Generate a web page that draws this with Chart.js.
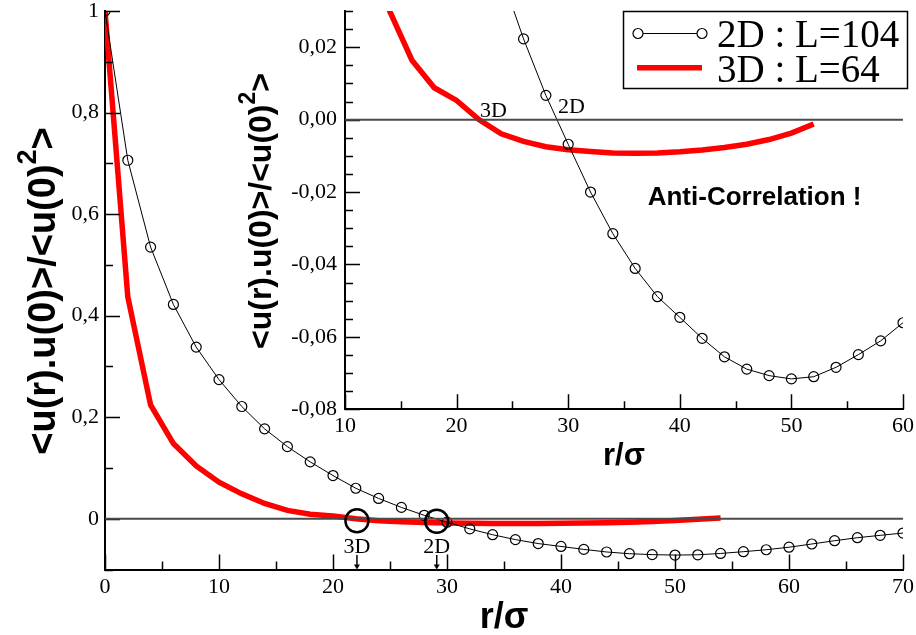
<!DOCTYPE html>
<html>
<head>
<meta charset="utf-8">
<script src="https://cdn.jsdelivr.net/npm/chart.js@4.4.0/dist/chart.umd.min.js"></script>
<style>
  html, body { margin: 0; padding: 0; background: #fff; }
  #wrap { position: relative; width: 916px; height: 635px; }
  #wrap canvas { position: absolute; left: 0; top: 0; }
</style>
</head>
<body>
<div id="wrap">
  <canvas id="main" width="916" height="635"></canvas>
  <canvas id="inset" width="916" height="635"></canvas>
</div>
<script>
// Correlation data
const r2d = [0, 2, 4, 6, 8, 10, 12, 14, 16, 18, 20, 22, 24, 26, 28, 30, 32, 34,
  36, 38, 40, 42, 44, 46, 48, 50, 52, 54, 56, 58, 60, 62, 64, 66, 68, 70];
const corr2d = [1.000, 0.706, 0.535, 0.422, 0.338, 0.274, 0.221, 0.177, 0.142, 0.112,
  0.085, 0.060, 0.040, 0.0223, 0.0067, -0.0068, -0.0200, -0.0315, -0.0411, -0.0489,
  -0.0546, -0.0604, -0.0655, -0.0689, -0.0707, -0.0716, -0.0710, -0.0684, -0.0649,
  -0.0611, -0.0561, -0.0498, -0.0433, -0.0374, -0.0327, -0.0282];

const r3d = [0, 2, 4, 6, 8, 10, 12, 14, 16, 18, 20, 22, 24, 26, 28, 30, 32, 34,
  36, 38, 40, 42, 44, 46, 48, 50, 52, 54];
const corr3d = [1.000, 0.437, 0.224, 0.148, 0.104, 0.072, 0.049, 0.030, 0.0164, 0.0088,
  0.0053, 0.0000, -0.0039, -0.0060, -0.0075, -0.0083, -0.0088, -0.0092, -0.0093, -0.0092,
  -0.0089, -0.0084, -0.0077, -0.0068, -0.0055, -0.0037, -0.0012, 0.0015];

// Tick labels
const mainXTicks = [0, 10, 20, 30, 40, 50, 60, 70];
const mainYTicks = [0, 0.2, 0.4, 0.6, 0.8, 1];
const insetXTicks = [10, 20, 30, 40, 50, 60];
const insetYTicks = [-0.08, -0.06, -0.04, -0.02, 0, 0.02];

// Annotations (data coordinates)
const mainMarks = [
  { label: '3D', r: 22.1, c: -0.004 },
  { label: '2D', r: 29.1, c: -0.005 }
];
const insetMarks = [
  { label: '3D', r: 23.3, c: 0.0007 },
  { label: '2D', r: 30.3, c: 0.0017 }
];
const legendLabels = ['2D : L=104', '3D : L=64'];

const SERIF = "'Liberation Serif', 'Times New Roman', serif";
const SANS = "'Liberation Sans', Arial, sans-serif";
const RED = '#ff0000';

const pts = (xs, ys) => xs.map((x, i) => ({ x, y: ys[i] }));

function commaFmt(digits) {
  return v => {
    if (digits === 1 && (Math.abs(v) < 1e-9 || Math.abs(v - 1) < 1e-9)) return String(Math.round(v));
    return v.toFixed(digits).replace('.', ',');
  };
}

// y title with raised "2"
function drawYTitle(ctx, cx, cy, size) {
  const head = '<u(r).u(0)>/<u(0)';
  const tail = '>';
  ctx.save();
  ctx.translate(cx, cy);
  ctx.rotate(-Math.PI / 2);
  ctx.fillStyle = '#000';
  ctx.textBaseline = 'alphabetic';
  ctx.textAlign = 'left';
  const big = `bold ${size}px ${SANS}`;
  const small = `bold ${Math.round(size * 0.72)}px ${SANS}`;
  ctx.font = big;
  const wHead = ctx.measureText(head).width;
  const wTail = ctx.measureText(tail).width;
  ctx.font = small;
  const wSup = ctx.measureText('2').width;
  let x0 = -(wHead + wSup + wTail) / 2;
  ctx.font = big;
  ctx.fillText(head, x0, 0);
  ctx.font = small;
  ctx.fillText('2', x0 + wHead, -size * 0.5);
  ctx.font = big;
  ctx.fillText(tail, x0 + wHead + wSup, 0);
  ctx.restore();
}

function drawXTitle(ctx, cx, baseY, size) {
  ctx.save();
  ctx.fillStyle = '#000';
  ctx.font = `bold ${size}px ${SANS}`;
  ctx.textAlign = 'center';
  ctx.textBaseline = 'alphabetic';
  ctx.fillText('r/\u03c3', cx, baseY);
  ctx.restore();
}

// inward major + minor ticks, zero line
function drawFrame(chart, cfg) {
  const { ctx, chartArea: a, scales: { x, y } } = chart;
  ctx.save();
  ctx.strokeStyle = '#000';
  ctx.lineWidth = 1.5;
  ctx.beginPath();
  const nx = Math.round((x.max - x.min) / cfg.xMinor);
  for (let i = 0; i <= nx; i++) {
    const v = x.min + i * cfg.xMinor;
    const major = cfg.xMajor.some(m => Math.abs(m - v) < 1e-9);
    const px = Math.round(x.getPixelForValue(v)) + 0.5;
    ctx.moveTo(px, a.bottom);
    ctx.lineTo(px, a.bottom - (major ? 15 : 8));
  }
  const ny = Math.round((y.max - y.min) / cfg.yMinor);
  for (let i = 0; i <= ny; i++) {
    const v = y.min + i * cfg.yMinor;
    const major = cfg.yMajor.some(m => Math.abs(m - v) < 1e-9);
    const py = Math.round(y.getPixelForValue(v)) + 0.5;
    ctx.moveTo(a.left, py);
    ctx.lineTo(a.left + (major ? 15 : 8), py);
  }
  ctx.stroke();

  // zero line
  ctx.strokeStyle = '#4a4a4a';
  ctx.lineWidth = 2;
  ctx.beginPath();
  const y0 = y.getPixelForValue(0);
  ctx.moveTo(a.left, y0);
  ctx.lineTo(a.right, y0);
  ctx.stroke();
  ctx.restore();
}

const mainPlugin = {
  id: 'mainDecor',
  afterDatasetsDraw(chart) {
    const { ctx, chartArea: a, scales: { x, y } } = chart;
    drawFrame(chart, { xMajor: mainXTicks, xMinor: 5, yMajor: mainYTicks, yMinor: 0.1 });

    ctx.save();
    mainMarks.forEach(m => {
      const px = x.getPixelForValue(m.r);
      const py = y.getPixelForValue(m.c);
      ctx.strokeStyle = '#000';
      ctx.lineWidth = 2.5;
      ctx.beginPath();
      ctx.arc(px, py, 11.5, 0, Math.PI * 2);
      ctx.stroke();

      ctx.fillStyle = '#000';
      ctx.font = `22px ${SERIF}`;
      ctx.textAlign = 'center';
      ctx.textBaseline = 'alphabetic';
      ctx.fillText(m.label, px, 553);

      // arrow down to the axis
      ctx.lineWidth = 1.5;
      ctx.beginPath();
      ctx.moveTo(px, 555);
      ctx.lineTo(px, a.bottom - 4);
      ctx.stroke();
      ctx.beginPath();
      ctx.moveTo(px - 3, a.bottom - 5);
      ctx.lineTo(px + 3, a.bottom - 5);
      ctx.lineTo(px, a.bottom);
      ctx.closePath();
      ctx.fill();
    });
    ctx.restore();

    drawYTitle(ctx, 55, 291, 38);
    drawXTitle(ctx, (a.left + a.right) / 2, 628, 36);
  }
};

const insetPlugin = {
  id: 'insetDecor',
  afterDatasetsDraw(chart) {
    const { ctx, chartArea: a, scales: { x, y } } = chart;
    drawFrame(chart, { xMajor: insetXTicks, xMinor: 5, yMajor: insetYTicks, yMinor: 0.005 });

    ctx.save();
    ctx.fillStyle = '#000';
    ctx.font = `22px ${SERIF}`;
    ctx.textAlign = 'center';
    ctx.textBaseline = 'alphabetic';
    insetMarks.forEach(m => {
      ctx.fillText(m.label, x.getPixelForValue(m.r), y.getPixelForValue(m.c));
    });
    ctx.font = `bold 26px ${SANS}`;
    ctx.textBaseline = 'middle';
    ctx.fillText('Anti-Correlation !', x.getPixelForValue(46.7), y.getPixelForValue(-0.0217));
    ctx.restore();

    drawYTitle(ctx, 271, 211, 32);
    drawXTitle(ctx, (a.left + a.right) / 2, 465, 31);
  },
  afterDraw(chart) {
    // legend box, top right
    const ctx = chart.ctx;
    const ds = chart.data.datasets;
    ctx.save();
    ctx.fillStyle = '#fff';
    ctx.fillRect(623, 11, 285, 78);
    ctx.strokeStyle = '#000';
    ctx.lineWidth = 1.5;
    ctx.strokeRect(623.5, 11.5, 284, 77);

    ctx.strokeStyle = ds[0].borderColor;
    ctx.lineWidth = 1;
    ctx.beginPath();
    ctx.moveTo(638, 33.5);
    ctx.lineTo(702, 33.5);
    ctx.stroke();
    [638, 702].forEach(cx => {
      ctx.beginPath();
      ctx.arc(cx, 33.5, 5, 0, Math.PI * 2);
      ctx.fillStyle = '#fff';
      ctx.fill();
      ctx.lineWidth = 1.2;
      ctx.stroke();
    });

    ctx.strokeStyle = ds[1].borderColor;
    ctx.lineWidth = ds[1].borderWidth;
    ctx.beginPath();
    ctx.moveTo(637, 67.7);
    ctx.lineTo(702, 67.7);
    ctx.stroke();

    ctx.fillStyle = '#000';
    ctx.font = `39px ${SERIF}`;
    ctx.textAlign = 'left';
    ctx.textBaseline = 'alphabetic';
    ctx.fillText(legendLabels[0], 717, 46.7);
    ctx.fillText(legendLabels[1], 717, 81.7);
    ctx.restore();
  }
};

function axisOpts(min, max, tickVals, fmt, padding, size) {
  return {
    type: 'linear',
    min, max,
    afterBuildTicks: s => { s.ticks = tickVals.map(v => ({ value: v })); },
    afterFit: s => {
      size(s);
      // let layout.padding alone decide the plot area edges
      s.paddingTop = 0;
      s.paddingBottom = 0;
      s.paddingLeft = 0;
      s.paddingRight = 0;
    },
    grid: { display: true, drawOnChartArea: false, drawTicks: false },
    border: { display: true, color: '#000', width: 2 },
    ticks: {
      autoSkip: false,
      maxRotation: 0,
      padding,
      color: '#000',
      font: { family: SERIF, size: 22 },
      callback: fmt
    }
  };
}

function datasets(r3, c3) {
  return [
    {
      label: legendLabels[0],
      data: pts(r2d, corr2d),
      borderColor: '#000',
      borderWidth: 1,
      pointRadius: 5,
      pointBorderWidth: 1.2,
      pointBorderColor: '#000',
      pointBackgroundColor: 'rgba(0,0,0,0)',
      tension: 0
    },
    {
      label: legendLabels[1],
      data: pts(r3, c3),
      borderColor: RED,
      borderWidth: 5.5,
      pointRadius: 0,
      tension: 0
    }
  ];
}

const common = {
  responsive: false,
  animation: false,
  events: [],
  plugins: { legend: { display: false }, tooltip: { enabled: false } }
};

new Chart(document.getElementById('main'), {
  type: 'line',
  data: { datasets: datasets(r3d, corr3d) },
  options: {
    ...common,
    layout: { padding: { left: 0, top: 11, right: 13, bottom: 0 } },
    scales: {
      x: axisOpts(0, 70, mainXTicks, v => String(v), 5, s => { s.height = 65.5; }),
      y: axisOpts(-0.1, 1, mainYTicks, commaFmt(1), 6, s => { s.width = 105; })
    }
  },
  plugins: [mainPlugin]
});

// inset shows the 3D curve up to r = 52
new Chart(document.getElementById('inset'), {
  type: 'line',
  data: { datasets: datasets(r3d.slice(0, -1), corr3d.slice(0, -1)) },
  options: {
    ...common,
    layout: { padding: { left: 0, top: 11, right: 13, bottom: 175.7 } },
    scales: {
      x: axisOpts(10, 60, insetXTicks, v => String(v), 4, s => { s.height = 50; }),
      y: axisOpts(-0.08, 0.03, insetYTicks, commaFmt(2), 8, s => { s.width = 345; })
    }
  },
  plugins: [insetPlugin]
});
</script>
</body>
</html>
